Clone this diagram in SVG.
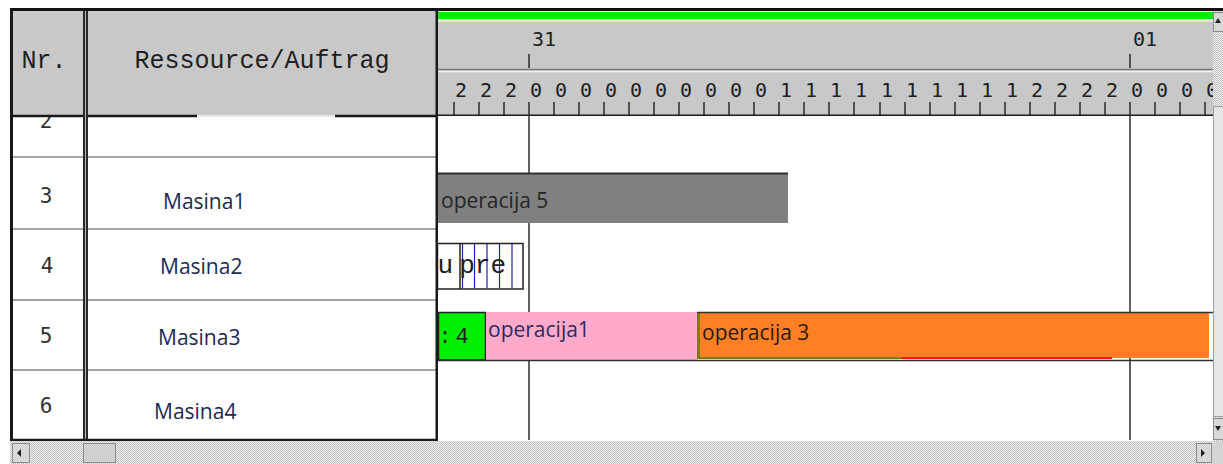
<svg xmlns="http://www.w3.org/2000/svg" width="1223" height="464" viewBox="0 0 1223 464">
<defs>
<style>
.mono{font-family:"Liberation Mono","Courier New",monospace;fill:#202020}
.dmono{font-family:"DejaVu Sans Mono","Liberation Mono",monospace;fill:#202020}
.hd{font-size:25px;text-anchor:middle}
.hr{font-size:20px}
.nr{font-size:21px;text-anchor:middle;fill:#303030}
.lbl{font-family:"Open Sans","Noto Sans",sans-serif;font-size:21px}
.res{fill:#1c2a52}
.tick{stroke:#2a2a2a;stroke-width:1.5}
.rowline{stroke:#a4a4a4;stroke-width:2}
.dark{stroke:#1a1a1a;stroke-width:2.5}
.day{stroke:#3a3a3a;stroke-width:1.6}
.blue{stroke:#2020b0;stroke-width:1.2}
.btn{fill:#d8d8d8;stroke:#8a8a8a;stroke-width:1}
</style>
<pattern id="dots" width="2" height="2" patternUnits="userSpaceOnUse">
<rect width="2" height="2" fill="#f2f2f2"/>
<rect width="1" height="1" fill="#c0c0c0"/>
<rect x="1" y="1" width="1" height="1" fill="#c0c0c0"/>
</pattern>
<clipPath id="chartClip"><rect x="438" y="116" width="775" height="324"/></clipPath>
<clipPath id="hdrClip"><rect x="438" y="11" width="775" height="105"/></clipPath>
</defs>

<rect width="1223" height="464" fill="#ffffff"/>

<!-- table rows -->
<g id="table-rows">
  <rect x="12" y="116" width="425" height="324" fill="#ffffff"/>
  <line class="rowline" x1="12" y1="157" x2="83" y2="157"/>
  <line class="rowline" x1="88" y1="157" x2="437" y2="157"/>
  <line class="rowline" x1="12" y1="229" x2="83" y2="229"/>
  <line class="rowline" x1="88" y1="229" x2="437" y2="229"/>
  <line class="rowline" x1="12" y1="300" x2="83" y2="300"/>
  <line class="rowline" x1="88" y1="300" x2="437" y2="300"/>
  <line class="rowline" x1="12" y1="370" x2="83" y2="370"/>
  <line class="rowline" x1="88" y1="370" x2="437" y2="370"/>
</g>
<g id="row-2"><text class="dmono nr" x="46" y="128">2</text></g>
<g id="row-3"><text class="dmono nr" x="46" y="203">3</text><text class="lbl res" x="163" y="209">Masina1</text></g>
<g id="row-4"><text class="dmono nr" x="47" y="273">4</text><text class="lbl res" x="160" y="274">Masina2</text></g>
<g id="row-5"><text class="dmono nr" x="46" y="343">5</text><text class="lbl res" x="158" y="345">Masina3</text></g>
<g id="row-6"><text class="dmono nr" x="46" y="413">6</text><text class="lbl res" x="154" y="419">Masina4</text></g>

<!-- table header -->
<g id="table-header">
  <rect x="12" y="11" width="425" height="105" fill="#c8c8c8"/>
  <text class="mono hd" x="44" y="68">Nr.</text>
  <text class="mono hd" x="262" y="68">Ressource/Auftrag</text>
  <line x1="12" y1="116" x2="197" y2="116" class="dark"/>
  <line x1="335" y1="116" x2="437" y2="116" class="dark"/>
  <line x1="197" y1="116" x2="335" y2="116" stroke="#e8e8e8" stroke-width="2"/>
</g>

<!-- table frame -->
<g id="table-frame">
  <rect x="10" y="8" width="3" height="433" fill="#1a1a1a"/>
  <rect x="83" y="11" width="5" height="429" fill="#2a2a2a"/>
  <line x1="85.5" y1="11" x2="85.5" y2="440" stroke="#b8b8b8" stroke-width="1"/>
  <rect x="435.5" y="8" width="2.5" height="433" fill="#1a1a1a"/>
  <line x1="10" y1="440" x2="438" y2="440" class="dark"/>
  <line x1="10" y1="9.5" x2="1223" y2="9.5" stroke="#111" stroke-width="3"/>
</g>

<!-- chart body -->
<g id="chart-body" clip-path="url(#chartClip)">
  <rect x="438" y="116" width="775" height="324" fill="#ffffff"/>
  <line class="day" x1="529" y1="116" x2="529" y2="440"/>
  <line class="day" x1="1130" y1="116" x2="1130" y2="440"/>
</g>

<g id="bar-operacija5" clip-path="url(#chartClip)">
  <rect x="438" y="173" width="350" height="50" fill="#808080"/>
  <line x1="438" y1="173.5" x2="788" y2="173.5" stroke="#303030" stroke-width="2"/>
  <text class="lbl" x="441" y="208" fill="#262626">operacija 5</text>
</g>

<g id="bar-upre" clip-path="url(#chartClip)">
  <rect x="437.5" y="243.5" width="85.5" height="45.5" fill="#ffffff" stroke="#202020" stroke-width="1.5"/>
  <line x1="460" y1="243.5" x2="460" y2="289" stroke="#202020" stroke-width="1.5"/>
  <line class="blue" x1="462.5" y1="244" x2="462.5" y2="288.5"/>
  <line class="blue" x1="474.5" y1="244" x2="474.5" y2="288.5"/>
  <line class="blue" x1="487" y1="244" x2="487" y2="288.5"/>
  <line class="blue" x1="499.5" y1="244" x2="499.5" y2="288.5"/>
  <line class="blue" x1="512" y1="244" x2="512" y2="288.5"/>
  <text class="mono" x="437.5" y="273" font-size="26">u</text>
  <text class="mono" x="459.2" y="273" font-size="26">pre</text>
</g>

<g id="bar-green" clip-path="url(#chartClip)">
  <rect x="438.5" y="312.5" width="47" height="47.5" fill="#00ee00" stroke="#202020" stroke-width="1.5"/>
  <text class="mono" x="438.4 447 455.4" y="343" font-size="22">: 4</text>
</g>

<g id="bar-operacija1" clip-path="url(#chartClip)">
  <rect x="486" y="312" width="211" height="48" fill="#ffaacb"/>
  <text class="lbl" x="488" y="337" fill="#2c2a5c">operacija1</text>
</g>

<g id="bar-operacija3" clip-path="url(#chartClip)">
  <rect x="697" y="313" width="512" height="45" fill="#ff8024"/>
  <rect x="697" y="313" width="3" height="45" fill="#7d7d00"/>
  <rect x="697" y="357" width="205" height="2" fill="#7d7d00"/>
  <rect x="902" y="357" width="210" height="2" fill="#ff1a00"/>
  <line x1="697" y1="312.5" x2="1213" y2="312.5" stroke="#303030" stroke-width="1.5"/>
  <text class="lbl" x="702" y="340" fill="#2a1a10">operacija 3</text>
</g>
<g id="row5-line"><line x1="438" y1="360.5" x2="1213" y2="360.5" stroke="#303030" stroke-width="1.5"/></g>

<!-- chart header -->
<g id="chart-header" clip-path="url(#hdrClip)">
  <rect x="438" y="11" width="775" height="105" fill="#c8c8c8"/>
  <rect x="438" y="11" width="775" height="1.5" fill="#e8e8e8"/>
  <rect x="438" y="12" width="775" height="7" fill="#00ee00"/>
  <rect x="438" y="19" width="775" height="3" fill="#e4e4e4"/>
  <line x1="438" y1="69.5" x2="1213" y2="69.5" stroke="#7a7a7a" stroke-width="1.5"/>
  <line x1="438" y1="71.5" x2="1213" y2="71.5" stroke="#f4f4f4" stroke-width="1.5"/>
  <line x1="438" y1="115.5" x2="1213" y2="115.5" stroke="#1a1a1a" stroke-width="2"/>
  <text class="dmono hr" x="532" y="46">31</text>
  <text class="dmono hr" x="1133" y="46">01</text>
  <line class="tick" x1="529" y1="54" x2="529" y2="68"/>
  <line class="tick" x1="1130" y1="54" x2="1130" y2="68"/>
  <g class="ticks">
    <line class="tick" x1="454" y1="102" x2="454" y2="115"/>
    <line class="tick" x1="479" y1="102" x2="479" y2="115"/>
    <line class="tick" x1="504" y1="102" x2="504" y2="115"/>
    <line class="tick" x1="529" y1="102" x2="529" y2="116"/>
    <line class="tick" x1="554" y1="102" x2="554" y2="115"/>
    <line class="tick" x1="579" y1="102" x2="579" y2="115"/>
    <line class="tick" x1="604" y1="102" x2="604" y2="115"/>
    <line class="tick" x1="629" y1="102" x2="629" y2="115"/>
    <line class="tick" x1="654" y1="102" x2="654" y2="115"/>
    <line class="tick" x1="679" y1="102" x2="679" y2="115"/>
    <line class="tick" x1="704" y1="102" x2="704" y2="115"/>
    <line class="tick" x1="729" y1="102" x2="729" y2="115"/>
    <line class="tick" x1="754" y1="102" x2="754" y2="115"/>
    <line class="tick" x1="779" y1="102" x2="779" y2="115"/>
    <line class="tick" x1="804" y1="102" x2="804" y2="115"/>
    <line class="tick" x1="829" y1="102" x2="829" y2="115"/>
    <line class="tick" x1="854" y1="102" x2="854" y2="115"/>
    <line class="tick" x1="880" y1="102" x2="880" y2="115"/>
    <line class="tick" x1="905" y1="102" x2="905" y2="115"/>
    <line class="tick" x1="930" y1="102" x2="930" y2="115"/>
    <line class="tick" x1="955" y1="102" x2="955" y2="115"/>
    <line class="tick" x1="980" y1="102" x2="980" y2="115"/>
    <line class="tick" x1="1005" y1="102" x2="1005" y2="115"/>
    <line class="tick" x1="1030" y1="102" x2="1030" y2="115"/>
    <line class="tick" x1="1055" y1="102" x2="1055" y2="115"/>
    <line class="tick" x1="1080" y1="102" x2="1080" y2="115"/>
    <line class="tick" x1="1105" y1="102" x2="1105" y2="115"/>
    <line class="tick" x1="1130" y1="102" x2="1130" y2="116"/>
    <line class="tick" x1="1155" y1="102" x2="1155" y2="115"/>
    <line class="tick" x1="1180" y1="102" x2="1180" y2="115"/>
    <line class="tick" x1="1205" y1="102" x2="1205" y2="115"/>
  </g>
  <g class="dmono hr">
    <text x="455" y="97">2</text><text x="480" y="97">2</text><text x="505" y="97">2</text>
    <text x="530" y="97">0</text><text x="555" y="97">0</text><text x="580" y="97">0</text>
    <text x="605" y="97">0</text><text x="630" y="97">0</text><text x="655" y="97">0</text>
    <text x="680" y="97">0</text><text x="705" y="97">0</text><text x="730" y="97">0</text>
    <text x="755" y="97">0</text><text x="780" y="97">1</text><text x="805" y="97">1</text>
    <text x="830" y="97">1</text><text x="855" y="97">1</text><text x="881" y="97">1</text>
    <text x="906" y="97">1</text><text x="931" y="97">1</text><text x="956" y="97">1</text>
    <text x="981" y="97">1</text><text x="1006" y="97">1</text><text x="1031" y="97">2</text>
    <text x="1056" y="97">2</text><text x="1081" y="97">2</text><text x="1106" y="97">2</text>
    <text x="1131" y="97">0</text><text x="1156" y="97">0</text><text x="1181" y="97">0</text>
    <text x="1206" y="97">0</text>
  </g>
</g>

<!-- vertical scrollbar -->
<g id="vscroll">
  <rect x="1213" y="11" width="10" height="430" fill="url(#dots)"/>
  <rect class="btn" x="1213.5" y="12.5" width="10" height="19"/>
  <path d="M1218 18 L1221 23 L1215 23 Z" fill="#202020"/>
  <rect x="1213.5" y="106.5" width="10" height="310" fill="#e6e6e6" stroke="#a0a0a0" stroke-width="1"/>
  <rect class="btn" x="1213.5" y="418.5" width="10" height="21"/>
  <path d="M1215 426 L1221 426 L1218 431 Z" fill="#202020"/>
</g>

<!-- horizontal scrollbar -->
<g id="hscroll">
  <rect x="10" y="441" width="1213" height="23" fill="url(#dots)"/>
  <rect class="btn" x="12.5" y="443.5" width="17" height="19"/>
  <path d="M17 453 L21 449 L21 457 Z" fill="#202020"/>
  <rect x="83.5" y="443.5" width="32" height="19" fill="#d0d0d0" stroke="#8a8a8a" stroke-width="1"/>
  <rect class="btn" x="1196.5" y="443.5" width="15" height="19"/>
  <path d="M1205 453 L1201 449 L1201 457 Z" fill="#202020"/>
  <rect x="1212" y="441" width="11" height="23" fill="#d4d4d4"/>
</g>

<g id="connectors"></g>
</svg>
